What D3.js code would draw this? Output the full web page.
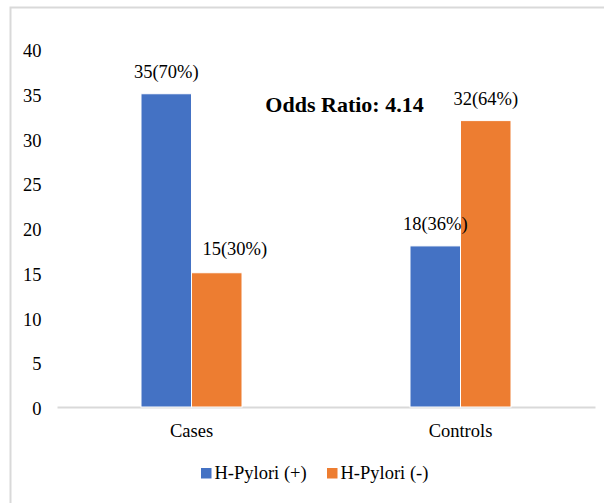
<!DOCTYPE html>
<html>
<head>
<meta charset="utf-8">
<script src="https://cdn.jsdelivr.net/npm/d3@7/dist/d3.min.js"></script>
<style>
  html, body { margin: 0; padding: 0; background: #fff; }
</style>
</head>
<body>
<svg id="chart" width="604" height="503"></svg>
<script>
// Study groups and H. pylori status counts
const groups = ["Cases", "Controls"];
const seriesNames = ["H-Pylori (+)", "H-Pylori (-)"];
const positive = [35, 18];
const negative = [15, 32];
const positiveLabels = ["35(70%)", "18(36%)"];
const negativeLabels = ["15(30%)", "32(64%)"];
const yTicks = [0, 5, 10, 15, 20, 25, 30, 35, 40];
const title = "Odds Ratio: 4.14";

const colors = ["#4472C4", "#ED7D31"];
const FONT = '"Liberation Serif"';
const fontSize = 18.5;

const svg = d3.select("#chart");

// outer frame
svg.append("rect")
  .attr("x", 10.5).attr("y", 7.5)
  .attr("width", 620).attr("height", 520)
  .attr("fill", "none")
  .attr("stroke", "#d9d9d9")
  .attr("stroke-width", 2);

const plot = { left: 57, right: 595, top: 49, bottom: 407 };

const y = d3.scaleLinear().domain([0, 40]).range([plot.bottom, plot.top]);
const x0 = d3.scaleBand().domain(groups).range([plot.left, plot.right]).padding(0);
const barW = 50.5;
const x1 = d3.scaleBand().domain(seriesNames)
  .range([x0.bandwidth() / 2 - barW, x0.bandwidth() / 2 + barW]).padding(0);

// y axis labels (no axis line or ticks drawn)
const yAxis = d3.axisLeft(y).tickValues(yTicks).tickSize(0).tickPadding(0);
const yg = svg.append("g").attr("transform", `translate(41.5,0)`).call(yAxis);
yg.attr("font-family", null);
yg.select(".domain").remove();
yg.selectAll("text")
  .style("font-family", FONT)
  .style("font-size", fontSize + "px")
  .attr("fill", "#000")
  .attr("dy", "0.41em");

// category axis
const xAxis = d3.axisBottom(x0).tickSize(0).tickPadding(17);
const xg = svg.append("g").attr("transform", `translate(0,${plot.bottom})`).call(xAxis);
xg.attr("font-family", null);
xg.select(".domain").attr("stroke", "#d9d9d9").attr("stroke-width", 2);
xg.selectAll("text")
  .style("font-family", FONT)
  .style("font-size", fontSize + "px")
  .attr("fill", "#000");

const rows = groups.map((g, i) => ({
  group: g,
  values: [
    { key: seriesNames[0], value: positive[i], label: positiveLabels[i], si: 0, gi: i },
    { key: seriesNames[1], value: negative[i], label: negativeLabels[i], si: 1, gi: i }
  ]
}));

const gGroups = svg.append("g").selectAll("g")
  .data(rows).join("g")
  .attr("transform", d => `translate(${x0(d.group)},0)`);

gGroups.selectAll("rect")
  .data(d => d.values).join("rect")
  .attr("x", d => x1(d.key))
  .attr("y", d => y(d.value))
  .attr("width", x1.bandwidth())
  .attr("height", d => y(0) - y(d.value))
  .attr("fill", d => colors[d.si])
  .attr("stroke", "#fff")
  .attr("stroke-width", 1);

// value labels; the low orange label on Cases sits shifted right of its bar
const shifted = d => d.gi === 0 && d.si === 1;
gGroups.selectAll("text.val")
  .data(d => d.values).join("text")
  .attr("class", "val")
  .attr("x", d => x1(d.key) + x1.bandwidth() / 2 + (shifted(d) ? 18 : 0))
  .attr("y", d => y(d.value) - (shifted(d) ? 18 : 16))
  .attr("text-anchor", "middle")
  .style("font-family", FONT)
  .style("font-size", fontSize + "px")
  .attr("fill", "#000")
  .text(d => d.label);

// annotation
svg.append("text")
  .attr("x", 344.5).attr("y", 112)
  .attr("text-anchor", "middle")
  .style("font-family", FONT)
  .style("font-size", "22px")
  .style("font-weight", "bold")
  .attr("fill", "#000")
  .text(title);

// legend
const legendItems = [
  { name: seriesNames[0], x: 201 },
  { name: seriesNames[1], x: 327 }
];
const lg = svg.append("g").selectAll("g")
  .data(legendItems).join("g")
  .attr("transform", d => `translate(${d.x},468)`);
lg.append("rect")
  .attr("width", 10.5).attr("height", 10.5)
  .attr("fill", (d, i) => colors[i]);
lg.append("text")
  .attr("x", 13.5).attr("y", 10.5)
  .style("font-family", FONT)
  .style("font-size", fontSize + "px")
  .attr("fill", "#000")
  .text(d => d.name);
</script>
</body>
</html>
